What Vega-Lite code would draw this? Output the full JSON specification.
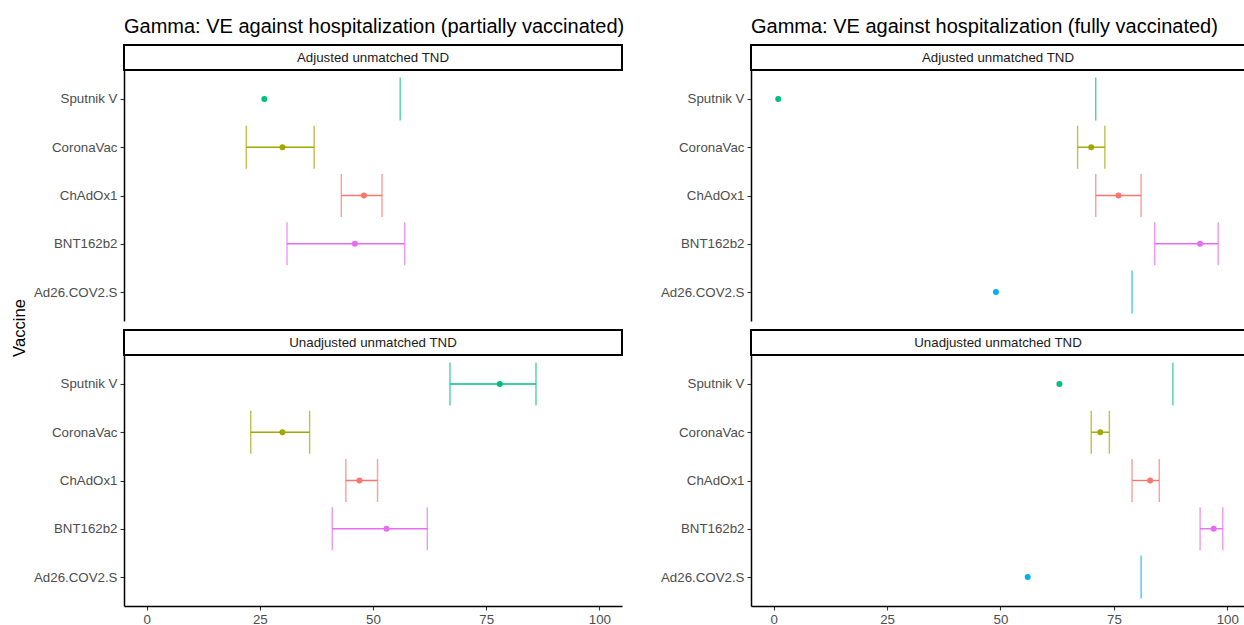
{
  "$schema": "https://vega.github.io/schema/vega-lite/v6.json",
  "padding": {"left": 11, "top": 15, "right": 0, "bottom": 0},
  "background": "white",
  "datasets": {
    "ve": [
      {"dose": "partial", "analysis": "Adjusted unmatched TND", "vaccine": "Sputnik V", "ve": 26, "lo": null, "hi": 56},
      {"dose": "partial", "analysis": "Adjusted unmatched TND", "vaccine": "CoronaVac", "ve": 30, "lo": 22, "hi": 37},
      {"dose": "partial", "analysis": "Adjusted unmatched TND", "vaccine": "ChAdOx1", "ve": 48, "lo": 43, "hi": 52},
      {"dose": "partial", "analysis": "Adjusted unmatched TND", "vaccine": "BNT162b2", "ve": 46, "lo": 31, "hi": 57},
      {"dose": "partial", "analysis": "Unadjusted unmatched TND", "vaccine": "Sputnik V", "ve": 78, "lo": 67, "hi": 86},
      {"dose": "partial", "analysis": "Unadjusted unmatched TND", "vaccine": "CoronaVac", "ve": 30, "lo": 23, "hi": 36},
      {"dose": "partial", "analysis": "Unadjusted unmatched TND", "vaccine": "ChAdOx1", "ve": 47, "lo": 44, "hi": 51},
      {"dose": "partial", "analysis": "Unadjusted unmatched TND", "vaccine": "BNT162b2", "ve": 53, "lo": 41, "hi": 62},
      {"dose": "full", "analysis": "Adjusted unmatched TND", "vaccine": "Sputnik V", "ve": 1, "lo": null, "hi": 71},
      {"dose": "full", "analysis": "Adjusted unmatched TND", "vaccine": "CoronaVac", "ve": 70, "lo": 67, "hi": 73},
      {"dose": "full", "analysis": "Adjusted unmatched TND", "vaccine": "ChAdOx1", "ve": 76, "lo": 71, "hi": 81},
      {"dose": "full", "analysis": "Adjusted unmatched TND", "vaccine": "BNT162b2", "ve": 94, "lo": 84, "hi": 98},
      {"dose": "full", "analysis": "Adjusted unmatched TND", "vaccine": "Ad26.COV2.S", "ve": 49, "lo": null, "hi": 79},
      {"dose": "full", "analysis": "Unadjusted unmatched TND", "vaccine": "Sputnik V", "ve": 63, "lo": null, "hi": 88},
      {"dose": "full", "analysis": "Unadjusted unmatched TND", "vaccine": "CoronaVac", "ve": 72, "lo": 70, "hi": 74},
      {"dose": "full", "analysis": "Unadjusted unmatched TND", "vaccine": "ChAdOx1", "ve": 83, "lo": 79, "hi": 85},
      {"dose": "full", "analysis": "Unadjusted unmatched TND", "vaccine": "BNT162b2", "ve": 97, "lo": 94, "hi": 99},
      {"dose": "full", "analysis": "Unadjusted unmatched TND", "vaccine": "Ad26.COV2.S", "ve": 56, "lo": null, "hi": 81}
    ]
  },
  "hconcat": [
    {
      "vconcat": [
        {
          "width": 498, "height": 25,
          "title": {"text": "Gamma: VE against hospitalization (partially vaccinated)", "anchor": "start", "frame": "group", "baseline": "alphabetic", "offset": -7.5, "fontSize": 20, "fontWeight": "normal", "color": "black", "font": "Liberation Sans"},
          "view": {"stroke": "black", "strokeWidth": 2},
          "data": {"values": [{"label": "Adjusted unmatched TND"}]},
          "mark": {"type": "text", "fontSize": 13.3, "color": "#1A1A1A", "font": "Liberation Sans"},
          "encoding": {"text": {"field": "label", "type": "nominal"}}
        },
        {
          "width": 498, "height": 251,
          "data": {"name": "ve"},
          "transform": [{"filter": "datum.dose == 'partial' && datum.analysis == 'Adjusted unmatched TND'"}],
          "encoding": {
            "y": {"field": "vaccine", "type": "nominal", "scale": {"type": "point", "domain": ["Sputnik V", "CoronaVac", "ChAdOx1", "BNT162b2", "Ad26.COV2.S"], "padding": 0.6}, "axis": {"title": null, "domain": true, "zindex": 1}},
            "color": {"field": "vaccine", "type": "nominal", "scale": {"domain": ["ChAdOx1", "CoronaVac", "Sputnik V", "Ad26.COV2.S", "BNT162b2"], "range": ["#F8766D", "#A3A500", "#00BF7D", "#00B0F6", "#E76BF3"]}, "legend": null}
          },
          "layer": [
            {"transform": [{"filter": "isValid(datum.lo) && isValid(datum.hi)"}], "mark": {"type": "rule", "strokeWidth": 1.4}, "encoding": {"x": {"field": "lo", "type": "quantitative", "scale": {"domain": [-5, 105], "nice": false, "zero": false}, "axis": null}, "x2": {"field": "hi"}}},
            {"transform": [{"filter": "isValid(datum.lo)"}], "mark": {"type": "tick", "orient": "vertical", "size": 43, "thickness": 1.4}, "encoding": {"x": {"field": "lo", "type": "quantitative", "axis": null}}},
            {"transform": [{"filter": "isValid(datum.hi)"}], "mark": {"type": "tick", "orient": "vertical", "size": 43, "thickness": 1.4}, "encoding": {"x": {"field": "hi", "type": "quantitative", "axis": null}}},
            {"mark": {"type": "circle", "size": 36, "opacity": 1}, "encoding": {"x": {"field": "ve", "type": "quantitative", "axis": null}}}
          ]
        },
        {
          "width": 498, "height": 9,
          "data": {"values": [{}]},
          "mark": {"type": "text", "text": ""},
          "encoding": {}
        },
        {
          "width": 498, "height": 25,
          "view": {"stroke": "black", "strokeWidth": 2},
          "data": {"values": [{"label": "Unadjusted unmatched TND"}]},
          "mark": {"type": "text", "fontSize": 13.3, "color": "#1A1A1A", "font": "Liberation Sans"},
          "encoding": {"text": {"field": "label", "type": "nominal"}}
        },
        {
          "width": 498, "height": 251,
          "data": {"name": "ve"},
          "transform": [{"filter": "datum.dose == 'partial' && datum.analysis == 'Unadjusted unmatched TND'"}],
          "encoding": {
            "y": {"field": "vaccine", "type": "nominal", "scale": {"type": "point", "domain": ["Sputnik V", "CoronaVac", "ChAdOx1", "BNT162b2", "Ad26.COV2.S"], "padding": 0.6}, "axis": {"title": "Vaccine", "domain": true, "zindex": 1, "titleAngle": 270, "titleX": -100, "titleY": -27.5, "titleAlign": "center", "titleBaseline": "alphabetic", "titleFontSize": 16.6, "titleColor": "black", "titleFontWeight": "normal"}},
            "color": {"field": "vaccine", "type": "nominal", "scale": {"domain": ["ChAdOx1", "CoronaVac", "Sputnik V", "Ad26.COV2.S", "BNT162b2"], "range": ["#F8766D", "#A3A500", "#00BF7D", "#00B0F6", "#E76BF3"]}, "legend": null}
          },
          "layer": [
            {"transform": [{"filter": "isValid(datum.lo) && isValid(datum.hi)"}], "mark": {"type": "rule", "strokeWidth": 1.4}, "encoding": {"x": {"field": "lo", "type": "quantitative", "scale": {"domain": [-5, 105], "nice": false, "zero": false}, "axis": {"values": [0, 25, 50, 75, 100], "title": null}}, "x2": {"field": "hi"}}},
            {"transform": [{"filter": "isValid(datum.lo)"}], "mark": {"type": "tick", "orient": "vertical", "size": 43, "thickness": 1.4}, "encoding": {"x": {"field": "lo", "type": "quantitative", "axis": {"values": [0, 25, 50, 75, 100], "title": null}}}},
            {"transform": [{"filter": "isValid(datum.hi)"}], "mark": {"type": "tick", "orient": "vertical", "size": 43, "thickness": 1.4}, "encoding": {"x": {"field": "hi", "type": "quantitative", "axis": {"values": [0, 25, 50, 75, 100], "title": null}}}},
            {"mark": {"type": "circle", "size": 36, "opacity": 1}, "encoding": {"x": {"field": "ve", "type": "quantitative", "axis": {"values": [0, 25, 50, 75, 100], "title": null}}}}
          ]
        }
      ],
      "spacing": 0,
      "bounds": "flush"
    },
    {
      "vconcat": [
        {
          "width": 494, "height": 25,
          "title": {"text": "Gamma: VE against hospitalization (fully vaccinated)", "anchor": "start", "frame": "group", "baseline": "alphabetic", "offset": -7.5, "fontSize": 20, "fontWeight": "normal", "color": "black", "font": "Liberation Sans"},
          "view": {"stroke": "black", "strokeWidth": 2},
          "data": {"values": [{"label": "Adjusted unmatched TND"}]},
          "mark": {"type": "text", "fontSize": 13.3, "color": "#1A1A1A", "font": "Liberation Sans"},
          "encoding": {"text": {"field": "label", "type": "nominal"}}
        },
        {
          "width": 494, "height": 251,
          "data": {"name": "ve"},
          "transform": [{"filter": "datum.dose == 'full' && datum.analysis == 'Adjusted unmatched TND'"}],
          "encoding": {
            "y": {"field": "vaccine", "type": "nominal", "scale": {"type": "point", "domain": ["Sputnik V", "CoronaVac", "ChAdOx1", "BNT162b2", "Ad26.COV2.S"], "padding": 0.6}, "axis": {"title": null, "domain": true, "zindex": 1}},
            "color": {"field": "vaccine", "type": "nominal", "scale": {"domain": ["ChAdOx1", "CoronaVac", "Sputnik V", "Ad26.COV2.S", "BNT162b2"], "range": ["#F8766D", "#A3A500", "#00BF7D", "#00B0F6", "#E76BF3"]}, "legend": null}
          },
          "layer": [
            {"transform": [{"filter": "isValid(datum.lo) && isValid(datum.hi)"}], "mark": {"type": "rule", "strokeWidth": 1.4}, "encoding": {"x": {"field": "lo", "type": "quantitative", "scale": {"domain": [-5, 103.9], "nice": false, "zero": false}, "axis": null}, "x2": {"field": "hi"}}},
            {"transform": [{"filter": "isValid(datum.lo)"}], "mark": {"type": "tick", "orient": "vertical", "size": 43, "thickness": 1.4}, "encoding": {"x": {"field": "lo", "type": "quantitative", "axis": null}}},
            {"transform": [{"filter": "isValid(datum.hi)"}], "mark": {"type": "tick", "orient": "vertical", "size": 43, "thickness": 1.4}, "encoding": {"x": {"field": "hi", "type": "quantitative", "axis": null}}},
            {"mark": {"type": "circle", "size": 36, "opacity": 1}, "encoding": {"x": {"field": "ve", "type": "quantitative", "axis": null}}}
          ]
        },
        {
          "width": 494, "height": 9,
          "data": {"values": [{}]},
          "mark": {"type": "text", "text": ""},
          "encoding": {}
        },
        {
          "width": 494, "height": 25,
          "view": {"stroke": "black", "strokeWidth": 2},
          "data": {"values": [{"label": "Unadjusted unmatched TND"}]},
          "mark": {"type": "text", "fontSize": 13.3, "color": "#1A1A1A", "font": "Liberation Sans"},
          "encoding": {"text": {"field": "label", "type": "nominal"}}
        },
        {
          "width": 494, "height": 251,
          "data": {"name": "ve"},
          "transform": [{"filter": "datum.dose == 'full' && datum.analysis == 'Unadjusted unmatched TND'"}],
          "encoding": {
            "y": {"field": "vaccine", "type": "nominal", "scale": {"type": "point", "domain": ["Sputnik V", "CoronaVac", "ChAdOx1", "BNT162b2", "Ad26.COV2.S"], "padding": 0.6}, "axis": {"title": null, "domain": true, "zindex": 1}},
            "color": {"field": "vaccine", "type": "nominal", "scale": {"domain": ["ChAdOx1", "CoronaVac", "Sputnik V", "Ad26.COV2.S", "BNT162b2"], "range": ["#F8766D", "#A3A500", "#00BF7D", "#00B0F6", "#E76BF3"]}, "legend": null}
          },
          "layer": [
            {"transform": [{"filter": "isValid(datum.lo) && isValid(datum.hi)"}], "mark": {"type": "rule", "strokeWidth": 1.4}, "encoding": {"x": {"field": "lo", "type": "quantitative", "scale": {"domain": [-5, 103.9], "nice": false, "zero": false}, "axis": {"values": [0, 25, 50, 75, 100], "title": null}}, "x2": {"field": "hi"}}},
            {"transform": [{"filter": "isValid(datum.lo)"}], "mark": {"type": "tick", "orient": "vertical", "size": 43, "thickness": 1.4}, "encoding": {"x": {"field": "lo", "type": "quantitative", "axis": {"values": [0, 25, 50, 75, 100], "title": null}}}},
            {"transform": [{"filter": "isValid(datum.hi)"}], "mark": {"type": "tick", "orient": "vertical", "size": 43, "thickness": 1.4}, "encoding": {"x": {"field": "hi", "type": "quantitative", "axis": {"values": [0, 25, 50, 75, 100], "title": null}}}},
            {"mark": {"type": "circle", "size": 36, "opacity": 1}, "encoding": {"x": {"field": "ve", "type": "quantitative", "axis": {"values": [0, 25, 50, 75, 100], "title": null}}}}
          ]
        }
      ],
      "spacing": 0,
      "bounds": "flush"
    }
  ],
  "spacing": 34,
  "config": {
    "font": "Liberation Sans",
    "view": {"stroke": null},
    "axis": {
      "grid": false,
      "domain": true,
      "domainColor": "black",
      "domainWidth": 1.5,
      "tickColor": "#333333",
      "tickSize": 4,
      "tickWidth": 1.1,
      "labelColor": "#4D4D4D",
      "labelFontSize": 13.3,
      "labelFont": "Liberation Sans",
      "labelPadding": 3,
      "titleFont": "Liberation Sans"
    },
    "axisX": {"labelPadding": 2},
    "tick": {"bandSize": 43}
  }
}
